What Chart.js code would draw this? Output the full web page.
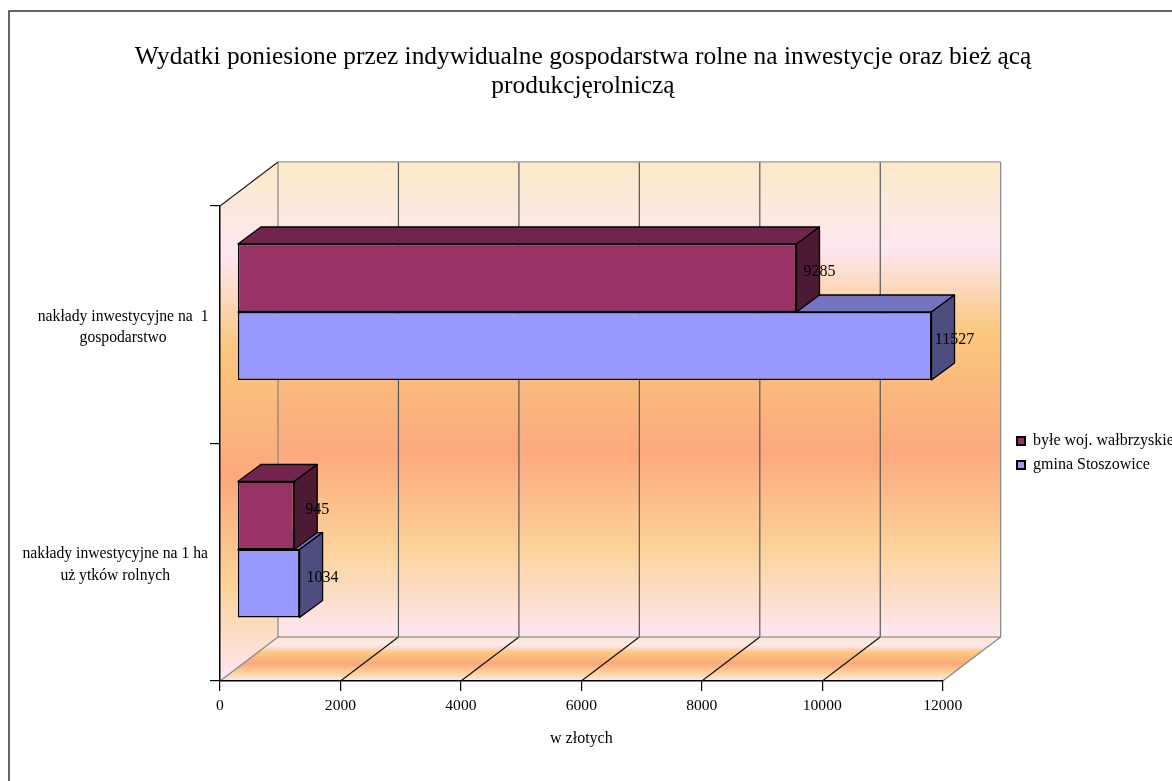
<!DOCTYPE html>
<html><head><meta charset="utf-8">
<style>html,body{margin:0;padding:0;background:#fff}canvas{display:block}</style>
<script src="https://cdn.jsdelivr.net/npm/chart.js@4"></script>
</head><body><div style="width:1172px;height:781px"><canvas id="c" width="1172" height="781"></canvas></div>
<script>
const titleLines = ["Wydatki poniesione przez indywidualne gospodarstwa rolne na inwestycje oraz bież ącą", "produkcjęrolniczą"];
const categories = [["nakłady inwestycyjne na  1", "gospodarstwo"], ["nakłady inwestycyjne na 1 ha", "uż ytków rolnych"]];
const seriesNames = ["byłe woj. wałbrzyskie", "gmina Stoszowice"];
const walbrzyskie = [9285, 945];
const stoszowice = [11527, 1034];
const xTitle = "w złotych";

const FONT = "'Liberation Serif','Times New Roman',serif";
const WALL = {dx: 58, dy: -44};
const BAR = {sx: 17.3, sy: -12.7, dx: 23, dy: -17};
const FRONT = ["#993366", "#9999FF"], TOP = ["#73264D", "#7373BF"], SIDE = ["#4D1A33", "#4D4D80"];

function peach(ctx, y0, y1) {
  const g = ctx.createLinearGradient(0, y0, 0, y1);
  [[0,"#FBEAC7"],[.18,"#FEE7F2"],[.36,"#FAC77D"],[.61,"#FBA97D"],[.82,"#FBD49C"],[1,"#FEE7F2"]].forEach(s => g.addColorStop(s[0], s[1]));
  return g;
}
function poly(ctx, pts, fill, stroke, lw) {
  ctx.beginPath();
  pts.forEach((p, i) => i ? ctx.lineTo(p[0], p[1]) : ctx.moveTo(p[0], p[1]));
  ctx.closePath();
  if (fill) { ctx.fillStyle = fill; ctx.fill(); }
  if (stroke) { ctx.strokeStyle = stroke; ctx.lineWidth = lw || 1; ctx.lineJoin = "round"; ctx.stroke(); }
}
function seg(ctx, x0, y0, x1, y1, color) {
  ctx.beginPath(); ctx.moveTo(x0, y0); ctx.lineTo(x1, y1); ctx.strokeStyle = color; ctx.lineWidth = 1.2; ctx.stroke();
}
const scene = {
  id: "scene",
  afterLayout(chart) {
    const l = chart.legend;
    l.left = 1009; l.right = 1172; l.top = 425; l.bottom = 530;
    chart.titleBlock.left = 0; chart.titleBlock.right = 1166;
  },
  beforeDraw(chart) {
    const {ctx, chartArea: a, scales: {x}} = chart;
    const d = WALL;
    ctx.save();
    ctx.strokeStyle = "#333"; ctx.lineWidth = 1.5;
    ctx.strokeRect(9, 11, 1172 - 9 + 5, 781 - 11 + 5);
    poly(ctx, [[a.left+d.dx,a.top+d.dy],[a.right+d.dx,a.top+d.dy],[a.right+d.dx,a.bottom+d.dy],[a.left+d.dx,a.bottom+d.dy]], peach(ctx,a.top+d.dy,a.bottom+d.dy));
    poly(ctx, [[a.left,a.top],[a.left+d.dx,a.top+d.dy],[a.left+d.dx,a.bottom+d.dy],[a.left,a.bottom]], peach(ctx,a.top+d.dy,a.bottom));
    poly(ctx, [[a.left,a.bottom],[a.left+d.dx,a.bottom+d.dy],[a.right+d.dx,a.bottom+d.dy],[a.right,a.bottom]], peach(ctx,a.bottom+d.dy,a.bottom));
    x.ticks.forEach(t => {
      const px = x.getPixelForValue(t.value);
      const edge = t.value === x.min || t.value === x.max;
      seg(ctx, px+d.dx, a.top+d.dy, px+d.dx, a.bottom+d.dy, edge ? "#868686" : "#555");
      seg(ctx, px, a.bottom, px+d.dx, a.bottom+d.dy, edge ? "#868686" : "#111");
    });
    seg(ctx, a.left+d.dx, a.top+d.dy, a.right+d.dx, a.top+d.dy, "#999");
    seg(ctx, a.left+d.dx, a.bottom+d.dy, a.right+d.dx, a.bottom+d.dy, "#777");
    seg(ctx, a.left, a.top, a.left+d.dx, a.top+d.dy, "#222");
    ctx.restore();
  },
  beforeDatasetsDraw(chart) {
    const ctx = chart.ctx;
    ctx.save();
    ctx.translate(BAR.sx, BAR.sy);
    for (let c = 0; c < categories.length; c++) {
      for (let s = 1; s >= 0; s--) {
        const b = chart.getDatasetMeta(s).data[c];
        const r = b.x, l = b.base, t = b.y - b.height/2, m = b.y + b.height/2;
        poly(ctx, [[l,t],[l+BAR.dx,t+BAR.dy],[r+BAR.dx,t+BAR.dy],[r,t]], TOP[s], "#000", 1.3);
        poly(ctx, [[r,t],[r+BAR.dx,t+BAR.dy],[r+BAR.dx,m+BAR.dy],[r,m]], SIDE[s], "#000", 1.3);
      }
    }
  },
  afterDatasetsDraw(chart) {
    const ctx = chart.ctx;
    ctx.fillStyle = "#000";
    ctx.font = "16px " + FONT;
    ctx.textAlign = "center"; ctx.textBaseline = "middle";
    chart.data.datasets.forEach((ds, s) => {
      chart.getDatasetMeta(s).data.forEach((b, i) => {
        ctx.fillText(String(ds.data[i]), b.x + BAR.dx, b.y - 6);
      });
    });
    ctx.restore();
  }
};
new Chart(document.getElementById("c"), {
  type: "bar",
  plugins: [scene],
  data: {
    labels: categories,
    datasets: [
      {label: seriesNames[0], data: walbrzyskie, backgroundColor: FRONT[0], borderColor: "#000", borderWidth: 1.5, borderSkipped: false, clip: false},
      {label: seriesNames[1], data: stoszowice, backgroundColor: FRONT[1], borderColor: "#000", borderWidth: 1.5, borderSkipped: false, clip: false}
    ]
  },
  options: {
    indexAxis: "y",
    responsive: false,
    animation: false,
    layout: {padding: {left: 0, right: 229.3, top: 0, bottom: 0}},
    datasets: {bar: {barPercentage: 1, categoryPercentage: 0.5726}},
    plugins: {
      tooltip: {enabled: false},
      title: {display: true, text: titleLines, color: "#000", padding: {top: 43, bottom: 105},
        font: {family: FONT, size: 25.4, weight: "normal", lineHeight: 1.14}},
      legend: {position: "chartArea", align: "start",
        labels: {color: "#000", boxWidth: 8, boxHeight: 8, padding: 8, font: {family: FONT, size: 16},
          generateLabels(ch) { return Chart.defaults.plugins.legend.labels.generateLabels(ch).map(i => ({...i, lineWidth: 2})); }}}
    },
    scales: {
      x: {
        type: "linear", min: 0, max: 12000,
        afterFit(s) { s.height = 100; },
        ticks: {stepSize: 2000, color: "#000", maxRotation: 0, padding: 6, font: {family: FONT, size: 15.6}, callback: v => String(v)},
        grid: {drawOnChartArea: false, drawTicks: true, tickLength: 10, color: "#000", lineWidth: 1.2},
        border: {color: "#000", width: 1.5},
        title: {display: true, text: xTitle, color: "#000", padding: {top: 16, bottom: 33}, font: {family: FONT, size: 16}}
      },
      y: {
        type: "category",
        afterFit(s) { s.width = 220; },
        ticks: {color: "#000", crossAlign: "center", padding: 1.5, labelOffset: 2.5, autoSkip: false,
          font: {family: FONT, size: 15.7, lineHeight: 1.36},
          callback(v, i) {
            const t = categories[i];
            return i === 0 ? t.map(s => "    " + s) : t;
          }},
        grid: {drawOnChartArea: false, drawTicks: true, tickLength: 10, color: "#000", offset: true, lineWidth: 1.2},
        border: {color: "#000", width: 1.5}
      }
    }
  }
});
</script></body></html>
